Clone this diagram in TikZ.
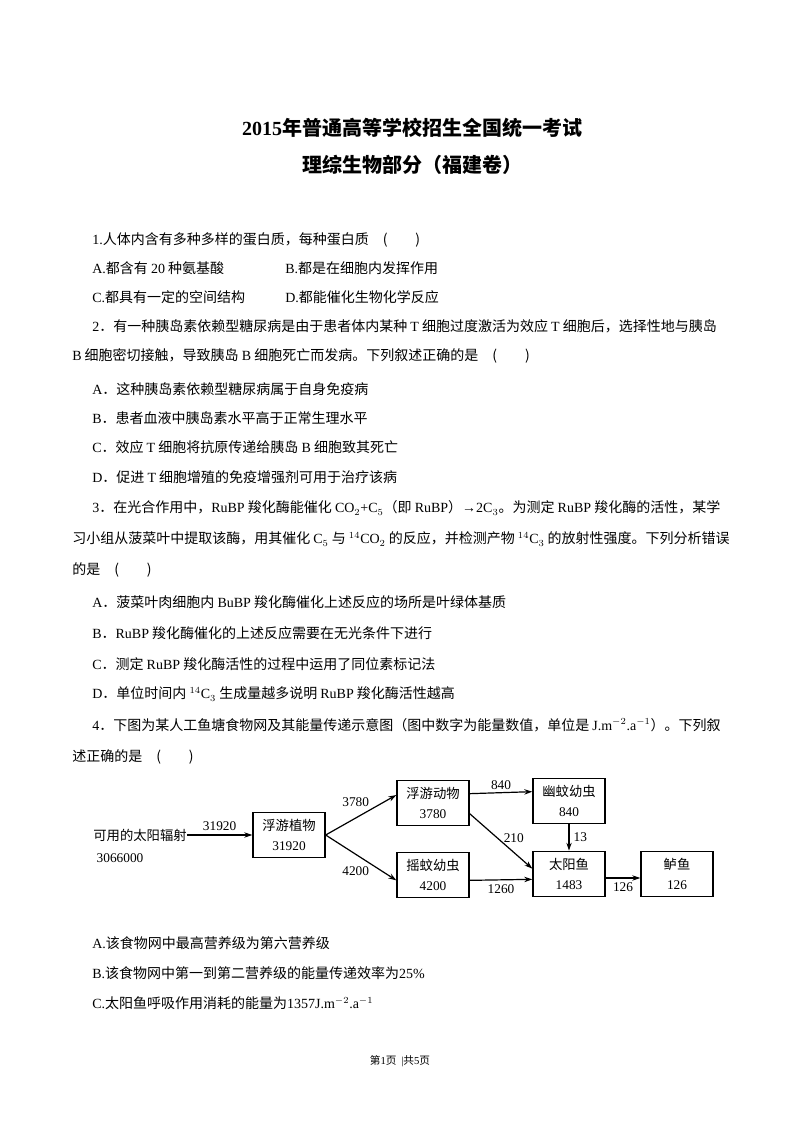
\documentclass[tikz,border=0pt]{standalone}
\usepackage{fontspec}
\setmainfont{Noto Sans CJK SC}
\newfontfamily\tnr{Liberation Serif}
\newcommand\T[1]{{\tnr #1}}
\usetikzlibrary{arrows.meta,positioning}
\begin{document}
\begin{tikzpicture}[x=0.75pt,y=-0.75pt,
  ln/.style={anchor=west,inner sep=0pt,font=\fontsize{10.5pt}{12pt}\selectfont},
  bx/.style={draw,line width=1pt,minimum width=54pt,minimum height=34pt,align=center,inner sep=1pt,font=\fontsize{10pt}{15pt}\selectfont},
  lb/.style={inner sep=0pt,font=\fontsize{10pt}{12pt}\tnr},
  ar/.style={-{Stealth[length=6pt,width=4pt]},line width=0.9pt}]
\useasboundingbox (0,0) rectangle (800,1132);
\fill[white] (0,0) rectangle (800,1132);
\node[font=\fontsize{15pt}{18pt}\bfseries\selectfont] (t1) at (412,128) {\T{\bfseries 2015}年普通高等学校招生全国统一考试};
\node[font=\fontsize{15pt}{18pt}\bfseries\selectfont] (t2) at (412,165) {理综生物部分（福建卷）};
\node[ln] (l1) at (92,240) {\T{1.}人体内含有多种多样的蛋白质，每种蛋白质\quad (\qquad)};
\node[ln] (l2a) at (92,268) {\T{A.}都含有 \T{20} 种氨基酸};
\node[ln] (l2b) at (285,268) {\T{B.}都是在细胞内发挥作用};
\node[ln] (l3a) at (92,297) {\T{C.}都具有一定的空间结构};
\node[ln] (l3b) at (285,297) {\T{D.}都能催化生物化学反应};
\node[ln] (l4) at (92,326) {\T{2}．有一种胰岛素依赖型糖尿病是由于患者体内某种 \T{T} 细胞过度激活为效应 \T{T} 细胞后，选择性地与胰岛};
\node[ln] (l5) at (72,356) {\T{B} 细胞密切接触，导致胰岛 \T{B} 细胞死亡而发病。下列叙述正确的是\quad (\qquad)};
\node[ln] (l6) at (92,389) {\T{A}．这种胰岛素依赖型糖尿病属于自身免疫病};
\node[ln] (l7) at (92,418) {\T{B}．患者血液中胰岛素水平高于正常生理水平};
\node[ln] (l8) at (92,447) {\T{C}．效应 \T{T} 细胞将抗原传递给胰岛 \T{B} 细胞致其死亡};
\node[ln] (l9) at (92,477) {\T{D}．促进 \T{T} 细胞增殖的免疫增强剂可用于治疗该病};
\node[ln] (l10) at (92,508) {\T{3}．在光合作用中，\T{RuBP} 羧化酶能催化 \T{CO$_2$+C$_5$}（即 \T{RuBP}）\T{→2C$_3$}。为测定 \T{RuBP} 羧化酶的活性，某学};
\node[ln] (l11) at (72,539) {习小组从菠菜叶中提取该酶，用其催化 \T{C$_5$} 与 \T{$^{14}$CO$_2$} 的反应，并检测产物 \T{$^{14}$C$_3$} 的放射性强度。下列分析错误};
\node[ln] (l12) at (72,570) {的是\quad (\qquad)};
\node[ln] (l13) at (92,602) {\T{A}．菠菜叶肉细胞内 \T{BuBP} 羧化酶催化上述反应的场所是叶绿体基质};
\node[ln] (l14) at (92,633) {\T{B}．\T{RuBP} 羧化酶催化的上述反应需要在无光条件下进行};
\node[ln] (l15) at (92,664) {\T{C}．测定 \T{RuBP} 羧化酶活性的过程中运用了同位素标记法};
\node[ln] (l16) at (92,694) {\T{D}．单位时间内 \T{$^{14}$C$_3$} 生成量越多说明 \T{RuBP} 羧化酶活性越高};
\node[ln] (l17) at (92,725) {\T{4}．下图为某人工鱼塘食物网及其能量传递示意图（图中数字为能量数值，单位是 \T{J.m$^{-2}$.a$^{-1}$}）。下列叙};
\node[ln] (l18) at (72,757) {述正确的是\quad (\qquad)};
% diagram
\node[inner sep=0pt,font=\fontsize{10pt}{12pt}\selectfont] (sun) at (140,835) {可用的太阳辐射};
\node[lb] (sunv) at (120,858) {3066000};
\node[bx] (zw) at (289,835) {浮游植物\\\T{31920}};
\node[bx] (dw) at (433,803) {浮游动物\\\T{3780}};
\node[bx] (yw) at (433,875) {摇蚊幼虫\\\T{4200}};
\node[bx] (ww) at (569,801) {幽蚊幼虫\\\T{840}};
\node[bx] (ty) at (569,874) {太阳鱼\\\T{1483}};
\node[bx] (ly) at (677,874) {鲈鱼\\\T{126}};
\draw[ar] (sun.east |- zw.west) -- (zw.west) node[lb,midway,above=3pt] {31920};
\draw[ar] (zw.east) -- ([yshift=6pt]dw.west) node[lb,midway,above=6pt,xshift=-4pt] {3780};
\draw[ar] (zw.east) -- ([yshift=-4pt]yw.west) node[lb,midway,below=6pt,xshift=-4pt] {4200};
\draw[ar] ([yshift=7pt]dw.east) -- ([yshift=7pt]ww.west) node[lb,midway,above=2pt] {840};
\draw[ar] ([yshift=-8pt]dw.east) -- ([yshift=4pt]ty.west) node[lb,pos=0.45,right=4pt] {210};
\draw[ar] (ww.south) -- (ty.north) node[lb,midway,right=3pt] {13};
\draw[ar] ([yshift=-4pt]yw.east) -- ([yshift=-4pt]ty.west) node[lb,midway,below=3pt] {1260};
\draw[ar] ([yshift=-3pt]ty.east) -- ([yshift=-3pt]ly.west) node[lb,midway,below=3pt] {126};
\node[ln] (a1) at (92,943) {\T{A.}该食物网中最高营养级为第六营养级};
\node[ln] (a2) at (92,973) {\T{B.}该食物网中第一到第二营养级的能量传递效率为\T{25\%}};
\node[ln] (a3) at (92,1003) {\T{C.}太阳鱼呼吸作用消耗的能量为\T{1357J.m$^{-2}$.a$^{-1}$}};
\node[font=\fontsize{8pt}{10pt}\selectfont] (ft) at (400,1061) {第\T{1}页\ \ \T{|}共\T{5}页};
\end{tikzpicture}
\end{document}
